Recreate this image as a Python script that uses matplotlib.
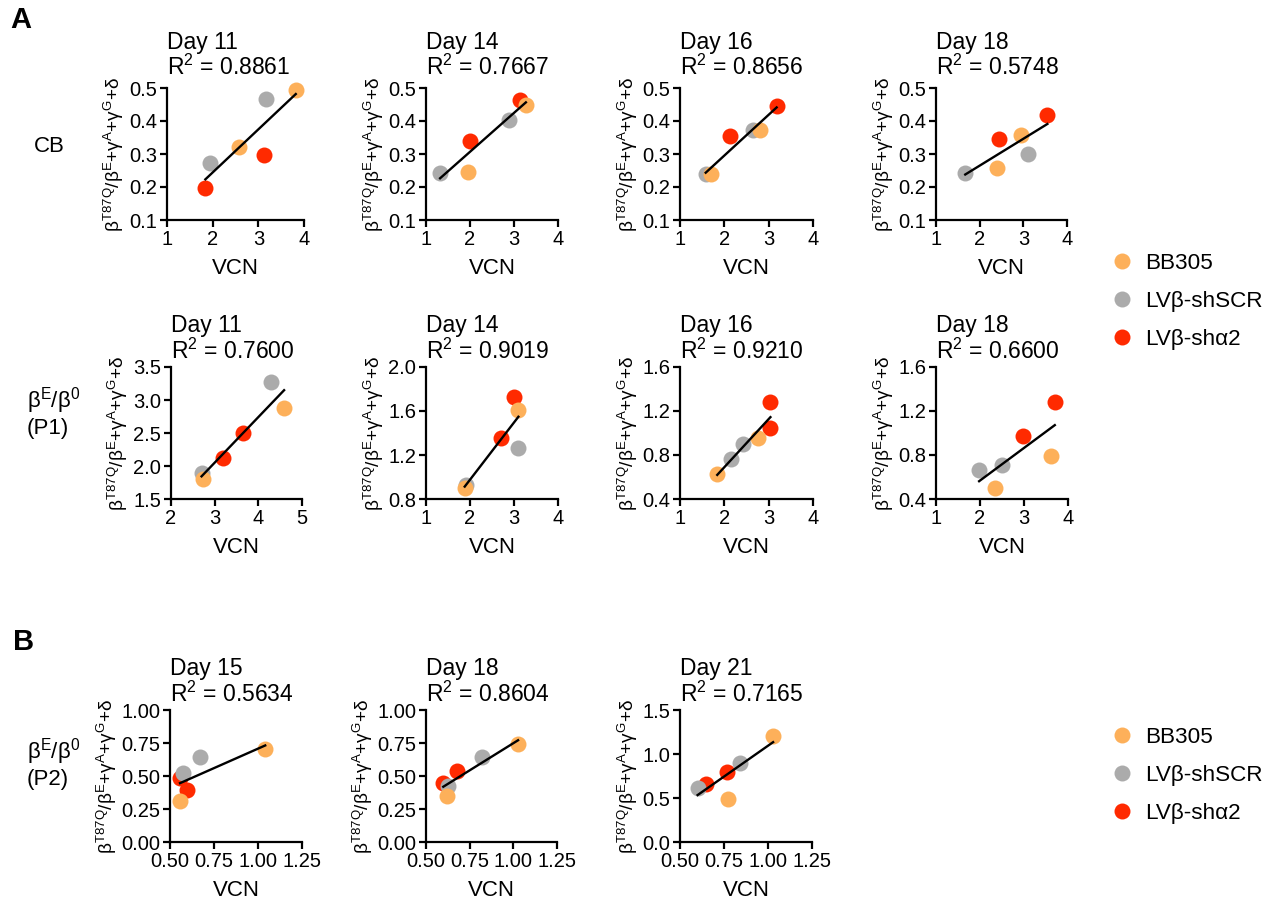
import numpy as np
import matplotlib
matplotlib.use("Agg")
import matplotlib.pyplot as plt
from matplotlib.lines import Line2D

plt.rcParams['font.family'] = ['Liberation Sans', 'DejaVu Sans']
plt.rcParams['mathtext.default'] = 'regular'

# groups, same order in every panel: 2x BB305, 2x shSCR, 2x sha2
groups = ['BB305', 'BB305', 'LVβ-shSCR', 'LVβ-shSCR', 'LVβ-shα2', 'LVβ-shα2']
group_colors = {'BB305': '#FDB05A', 'LVβ-shSCR': '#ABABAB', 'LVβ-shα2': '#FF2A00'}
draw_order = ['LVβ-shα2', 'LVβ-shSCR', 'BB305']

# A, CB
cb_d11_vcn = [3.82, 2.57, 3.16, 1.95, 3.13, 1.84]
cb_d11_val = [0.493, 0.322, 0.467, 0.274, 0.296, 0.196]
cb_d14_vcn = [1.96, 3.27, 1.32, 2.89, 2.00, 3.13]
cb_d14_val = [0.246, 0.448, 0.243, 0.402, 0.339, 0.465]
cb_d16_vcn = [1.70, 2.80, 1.58, 2.65, 2.13, 3.18]
cb_d16_val = [0.239, 0.372, 0.239, 0.374, 0.354, 0.446]
cb_d18_vcn = [2.40, 2.95, 1.67, 3.10, 2.44, 3.55]
cb_d18_val = [0.259, 0.359, 0.243, 0.301, 0.344, 0.417]

# A, P1
p1_d11_vcn = [4.59, 2.74, 4.30, 2.70, 3.64, 3.19]
p1_d11_val = [2.88, 1.80, 3.28, 1.90, 2.50, 2.125]
p1_d14_vcn = [3.10, 1.88, 3.10, 1.92, 3.00, 2.70]
p1_d14_val = [1.607, 0.897, 1.268, 0.927, 1.728, 1.35]
p1_d16_vcn = [2.75, 1.84, 2.43, 2.16, 3.04, 3.03]
p1_d16_val = [0.95, 0.624, 0.896, 0.763, 1.283, 1.041]
p1_d18_vcn = [3.61, 2.33, 2.51, 1.98, 3.70, 2.97]
p1_d18_val = [0.79, 0.503, 0.708, 0.663, 1.283, 0.971]

# B, P2
p2_d15_vcn = [1.041, 0.557, 0.671, 0.576, 0.557, 0.595]
p2_d15_val = [0.703, 0.307, 0.647, 0.526, 0.484, 0.395]
p2_d18_vcn = [1.027, 0.618, 0.818, 0.624, 0.675, 0.599]
p2_d18_val = [0.743, 0.345, 0.642, 0.428, 0.539, 0.446]
p2_d21_vcn = [1.029, 0.770, 0.840, 0.600, 0.765, 0.645]
p2_d21_val = [1.209, 0.491, 0.903, 0.612, 0.794, 0.661]

titles = ['Day 11', 'Day 14', 'Day 16', 'Day 18',
          'Day 11', 'Day 14', 'Day 16', 'Day 18',
          'Day 15', 'Day 18', 'Day 21']
r2_text = ['0.8861', '0.7667', '0.8656', '0.5748',
           '0.7600', '0.9019', '0.9210', '0.6600',
           '0.5634', '0.8604', '0.7165']

ticks_cb_y = [0.1, 0.2, 0.3, 0.4, 0.5]
ticks_14 = [1, 2, 3, 4]
ticks_25 = [2, 3, 4, 5]
ticks_p2_x = [0.50, 0.75, 1.00, 1.25]

W, H = 1274, 913
fig = plt.figure(figsize=(W / 100, H / 100), dpi=100)


def box(l, t, r, b):
    return [l / W, 1 - b / H, (r - l) / W, (b - t) / H]


# (data x, data y, xticks, xfmt, yticks, yfmt, pixel box, title pad)
panels = [
    (cb_d11_vcn, cb_d11_val, ticks_14, '%d', ticks_cb_y, '%.1f', (167, 88, 304, 220), 9.5),
    (cb_d14_vcn, cb_d14_val, ticks_14, '%d', ticks_cb_y, '%.1f', (426, 88, 558, 220), 9.5),
    (cb_d16_vcn, cb_d16_val, ticks_14, '%d', ticks_cb_y, '%.1f', (680, 88, 813, 220), 9.5),
    (cb_d18_vcn, cb_d18_val, ticks_14, '%d', ticks_cb_y, '%.1f', (936, 88, 1067, 220), 9.5),
    (p1_d11_vcn, p1_d11_val, ticks_25, '%d', [1.5, 2.0, 2.5, 3.0, 3.5], '%.1f', (171, 367, 302, 499), 6),
    (p1_d14_vcn, p1_d14_val, ticks_14, '%d', [0.8, 1.2, 1.6, 2.0], '%.1f', (426, 367, 558, 499), 6),
    (p1_d16_vcn, p1_d16_val, ticks_14, '%d', [0.4, 0.8, 1.2, 1.6], '%.1f', (680, 367, 813, 499), 6),
    (p1_d18_vcn, p1_d18_val, ticks_14, '%d', [0.4, 0.8, 1.2, 1.6], '%.1f', (936, 367, 1068, 499), 6),
    (p2_d15_vcn, p2_d15_val, ticks_p2_x, '%.2f', [0.0, 0.25, 0.5, 0.75, 1.0], '%.2f', (170, 710, 302, 842), 6),
    (p2_d18_vcn, p2_d18_val, ticks_p2_x, '%.2f', [0.0, 0.25, 0.5, 0.75, 1.0], '%.2f', (426, 710, 557, 842), 6),
    (p2_d21_vcn, p2_d21_val, ticks_p2_x, '%.2f', [0.0, 0.5, 1.0, 1.5], '%.1f', (680, 710, 812, 842), 6),
]

ylab = 'β$^{T87Q}$/β$^{E}$+γ$^{A}$+γ$^{G}$+δ'

for i, (xs, ys, xt, xf, yt, yf, pb, tpad) in enumerate(panels):
    ax = fig.add_axes(box(*pb))
    xs = np.array(xs)
    ys = np.array(ys)
    g = np.array(groups)
    for name in draw_order:
        m = g == name
        ax.plot(xs[m], ys[m], 'o', ms=11.5, mew=0, color=group_colors[name],
                clip_on=False, zorder=3)
    # linear fit drawn over the data range
    k, b = np.polyfit(xs, ys, 1)
    lx = np.array([xs.min(), xs.max()])
    ax.plot(lx, k * lx + b, color='black', lw=1.7, zorder=4)

    ax.set_xlim(xt[0], xt[-1])
    ax.set_ylim(yt[0], yt[-1])
    ax.set_xticks(xt)
    ax.set_xticklabels([xf % v for v in xt])
    ax.set_yticks(yt)
    ax.set_yticklabels([yf % v for v in yt])
    for s in ['top', 'right']:
        ax.spines[s].set_visible(False)
    for s in ['left', 'bottom']:
        ax.spines[s].set_linewidth(1.6)
    ax.tick_params(direction='out', length=5, width=1.6, labelsize=14.5, pad=2)
    ax.set_xlabel('VCN', fontsize=16, labelpad=7)
    ax.set_ylabel(ylab, fontsize=13.7, labelpad=2)
    ax.set_title(titles[i] + '\nR$^{2}$ = ' + r2_text[i], loc='left',
                 fontsize=16.5, pad=tpad, linespacing=1.05)

# row labels and panel letters
fig.text(10 / W, 1 - 20 / H, 'A', fontsize=21, fontweight='bold', va='center')
fig.text(13 / W, 1 - 642 / H, 'B', fontsize=21, fontweight='bold', va='center')
fig.text(49 / W, 1 - 147 / H, 'CB', fontsize=16, ha='center', va='center')
fig.text(27 / W, 1 - 412 / H, 'β$^{E}$/β$^{0}$\n(P1)', fontsize=16,
         ha='left', va='center', linespacing=1.1)
fig.text(27 / W, 1 - 763 / H, 'β$^{E}$/β$^{0}$\n(P2)', fontsize=16,
         ha='left', va='center', linespacing=1.1)

# legends
handles = [Line2D([], [], marker='o', ls='none', ms=11.5, mew=0, color=group_colors[n])
           for n in ['BB305', 'LVβ-shSCR', 'LVβ-shα2']]
labels = ['BB305', 'LVβ-shSCR', 'LVβ-shα2']
for ytop in [253, 727]:
    fig.legend(handles, labels, loc='upper left', bbox_to_anchor=(1110 / W, 1 - ytop / H),
               frameon=False, fontsize=16.2, handletextpad=0.45, labelspacing=0.75,
               borderaxespad=0, borderpad=0, handlelength=1.1)

fig.savefig('out.png', dpi=100)
